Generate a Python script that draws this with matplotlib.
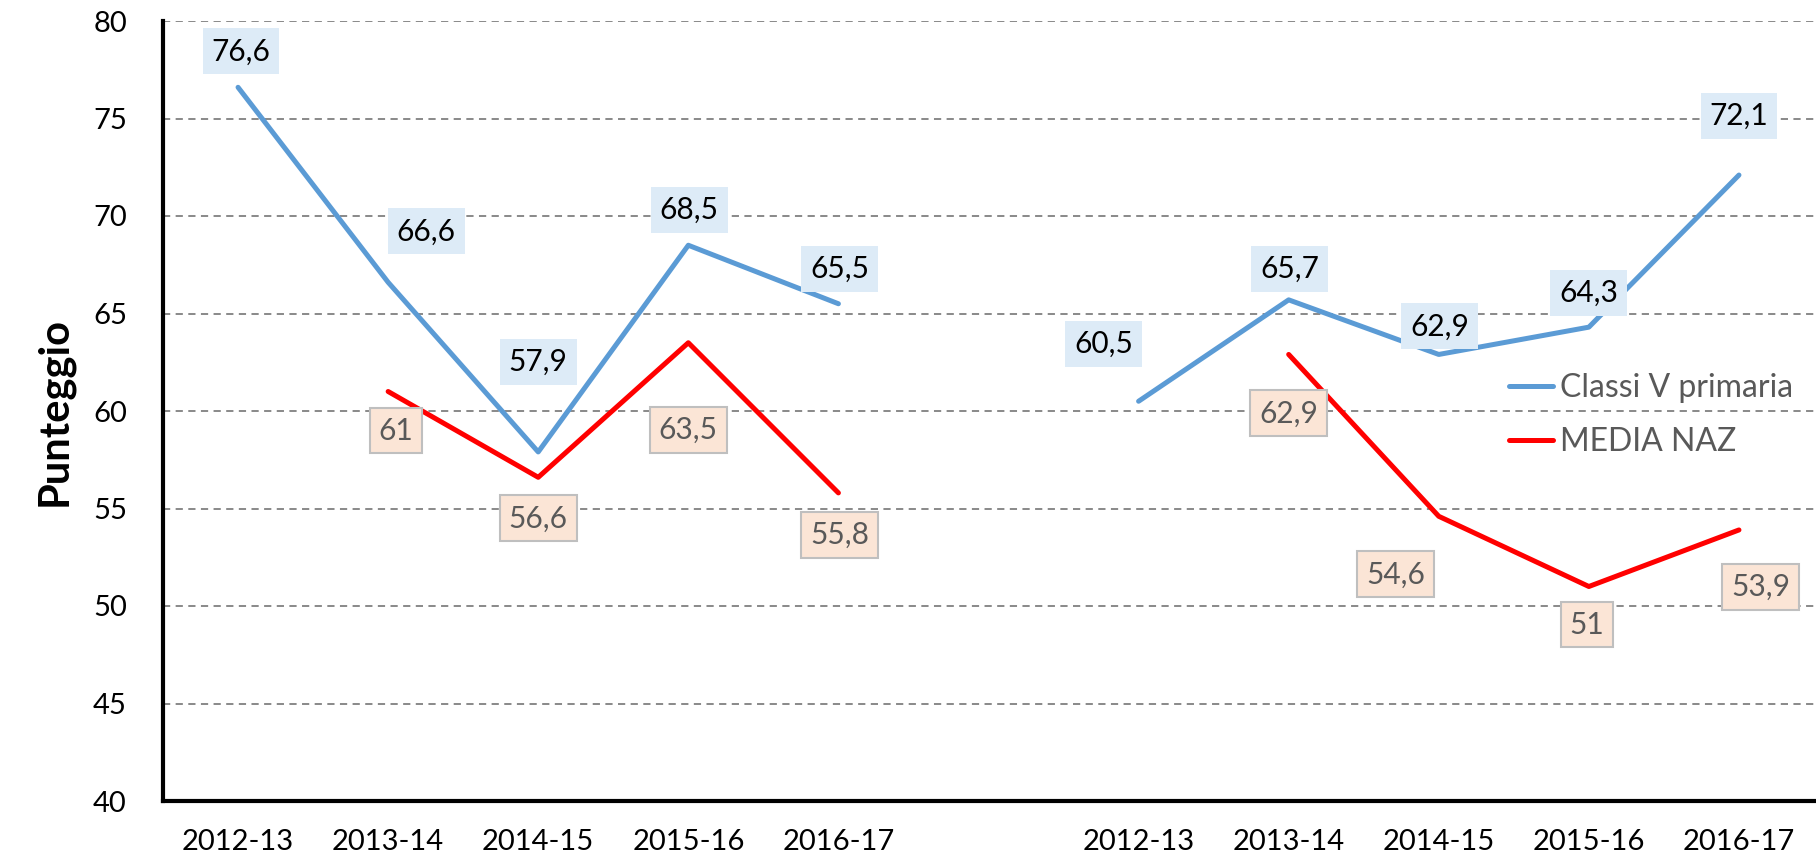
import numpy as np
import matplotlib
matplotlib.use("Agg")
import matplotlib.pyplot as plt

years = ["2012-13", "2013-14", "2014-15", "2015-16", "2016-17"]
categories = years + [""] + years
classi = [76.6, 66.6, 57.9, 68.5, 65.5, np.nan, 60.5, 65.7, 62.9, 64.3, 72.1]
media = [np.nan, 61, 56.6, 63.5, 55.8, np.nan, np.nan, 62.9, 54.6, 51, 53.9]

# label offsets in pixels (dx, dy)
blue_off = [(3, 36), (38, 51), (0, 90), (1, 35), (1, 35), None, (-35, 57), (1, 31), (1, 28), (0, 34), (0, 59)]
red_off = [None, (8, -39), (0, -41), (0, -87), (1, -42), None, None, (0, -59), (-43, -58), (-2, -38), (22, -57)]

plt.rcParams['font.family'] = ['Lato', 'DejaVu Sans']
fig = plt.figure(figsize=(18.16, 8.58), dpi=100)
ax = fig.add_axes([163/1816, 1 - 801/858, 1651/1816, 780/858])

x = np.arange(len(categories))
ax.plot(x, classi, color="#5B9BD5", lw=3.6, label="Classi V primaria", solid_capstyle="round", zorder=3)
ax.plot(x, media, color="#FF0000", lw=3.6, label="MEDIA NAZ", solid_capstyle="round", zorder=3)

def fmt(v):
    return str(int(v)) if float(v).is_integer() else f"{v:.1f}".replace(".", ",")

for i, v in enumerate(classi):
    if np.isnan(v):
        continue
    dx, dy = blue_off[i]
    ax.annotate(fmt(v), (x[i], v), xytext=(dx, dy), textcoords="offset pixels",
                ha="center", va="center", fontsize=21.5, color="black", zorder=4,
                bbox=dict(boxstyle="square,pad=0.3", fc="#DDEBF7", ec="none"))
for i, v in enumerate(media):
    if np.isnan(v):
        continue
    dx, dy = red_off[i]
    ax.annotate(fmt(v), (x[i], v), xytext=(dx, dy), textcoords="offset pixels",
                ha="center", va="center", fontsize=21.5, color="#595959", zorder=4,
                bbox=dict(boxstyle="square,pad=0.3", fc="#FBE5D6", ec="#BFBFBF", lw=1.5))

ax.set_xlim(-0.5, len(categories) - 0.5)
ax.set_ylim(40, 80)
ax.set_yticks(np.arange(40, 81, 5))
ax.set_xticks(x)
ax.set_xticklabels(categories)
ax.tick_params(axis="both", length=0, labelsize=21, colors="black")
ax.tick_params(axis="x", pad=20)
ax.tick_params(axis="y", pad=26)
ax.yaxis.grid(True, linestyle=(0, (4, 3)), color="#808080", lw=1.3)
ax.set_axisbelow(True)
for s in ["top", "right"]:
    ax.spines[s].set_visible(False)
for s in ["left", "bottom"]:
    ax.spines[s].set_linewidth(3)
    ax.spines[s].set_color("black")
ax.set_ylabel("Punteggio", fontsize=30, fontweight="bold", labelpad=14)

leg = ax.legend(loc="center left", bbox_to_anchor=(0.815, 0.495), frameon=False,
                fontsize=23, handlelength=1.4, handletextpad=0.2, labelspacing=0.75,
                borderaxespad=0, borderpad=0)
for t in leg.get_texts():
    t.set_color("#595959")

fig.savefig("out.png", dpi=100)
